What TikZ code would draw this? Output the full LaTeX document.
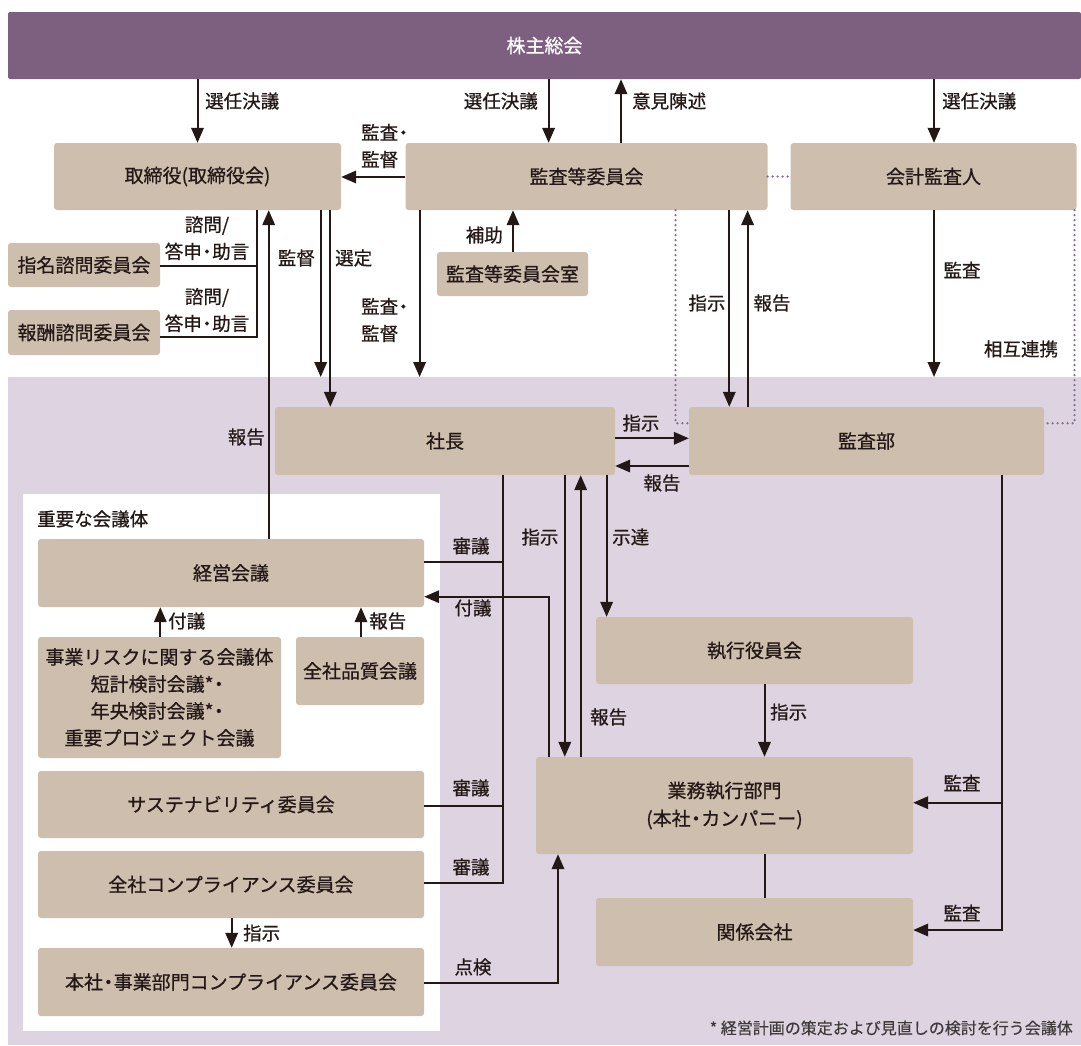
\documentclass[tikz,border=0pt]{standalone}
\usepackage{fontspec}
\setmainfont{Noto Sans CJK JP}[FakeBold=0.7]
\newfontfamily\fnfont{Noto Sans CJK JP}[FakeBold=0.3]
\usetikzlibrary{arrows.meta}
\newcommand{\tightdot}{\hspace{-0.22em}・\hspace{-0.22em}}
\definecolor{barpurple}{HTML}{7D6080}
\definecolor{boxtan}{HTML}{CEBEAE}
\definecolor{lav}{HTML}{DED4E1}
\definecolor{dotpurple}{HTML}{8A6A8C}
\definecolor{ink}{HTML}{231815}
\definecolor{fngray}{HTML}{3E393B}
\begin{document}
\begin{tikzpicture}[x=1pt,y=-1pt,
  every node/.style={font=\fontsize{19}{27}\selectfont, text=ink, inner sep=0pt},
  orgbox/.style={fill=boxtan, rounded corners=3pt, align=center},
  lbl/.style={font=\fontsize{18.5}{27}\selectfont},
  conn/.style={draw=ink, line width=2pt},
  arr/.style={conn, -{Triangle[length=15pt,width=12.5pt]}},
  dotline/.style={draw=dotpurple, line width=2.5pt, line cap=round, dash pattern=on 0pt off 5pt},
]
\useasboundingbox (0,0) rectangle (1081,1045);
% backgrounds
\fill[lav] (8,377) rectangle (1081,1045);
\fill[white] (23,494) rectangle (440,1031);
% columns and rows
\coordinate (X197) at (197.5,0);
\coordinate (X548) at (548.6,0);
\coordinate (X621) at (621,0);
\coordinate (X934) at (934,0);
\coordinate (X513) at (513,0);
\coordinate (X321) at (320.7,0);
\coordinate (X330) at (330.3,0);
\coordinate (X269) at (268.7,0);
\coordinate (X257) at (257,0);
\coordinate (X420) at (419.6,0);
\coordinate (X676) at (675.5,0);
\coordinate (X729) at (729.3,0);
\coordinate (X748) at (747.6,0);
\coordinate (X1074) at (1074.5,0);
\coordinate (X1002) at (1002,0);
\coordinate (X503) at (503,0);
\coordinate (XFG) at (548.6,0);
\coordinate (X558) at (558,0);
\coordinate (X565) at (564.8,0);
\coordinate (X581) at (580.7,0);
\coordinate (X606) at (606.6,0);
\coordinate (X764) at (764.5,0);
\coordinate (X160) at (160.3,0);
\coordinate (X361) at (361,0);
\coordinate (X232) at (231.7,0);
\coordinate (Y177) at (0,177);
\coordinate (Y266) at (0,265.7);
\coordinate (Y337) at (0,336.7);
\coordinate (Y377) at (0,377);
\coordinate (Y423) at (0,423.3);
\coordinate (Y438) at (0,438.3);
\coordinate (Y466) at (0,466);
\coordinate (Y562) at (0,561.7);
\coordinate (Y597) at (0,596.7);
\coordinate (Y803) at (0,802.7);
\coordinate (Y806) at (0,806);
\coordinate (Y883) at (0,883.3);
\coordinate (Y930) at (0,930);
\coordinate (Y983) at (0,983.3);
% boxes
\node[fill=barpurple, rounded corners=2pt, minimum width=1073pt, minimum height=67pt, text=white] (gm) at (544.5,45.5) {株主総会};
\node[orgbox, minimum width=287pt, minimum height=67pt] (tori) at (197.5,176.5) {取締役(取締役会)};
\node[orgbox, minimum width=362pt, minimum height=67pt] (kansa) at (586.5,176.5) {監査等委員会};
\node[orgbox, minimum width=286pt, minimum height=67pt] (kaikei) at (933.5,176.5) {会計監査人};
\node[orgbox, minimum width=152pt, minimum height=44pt] (shimei) at (84,265) {指名諮問委員会};
\node[orgbox, minimum width=152pt, minimum height=45pt] (hoshu) at (84,332.5) {報酬諮問委員会};
\node[orgbox, minimum width=151pt, minimum height=44pt] (shitsu) at (512.5,274) {監査等委員会室};
\node[orgbox, minimum width=340pt, minimum height=68pt] (shacho) at (445,441) {社長};
\node[orgbox, minimum width=355pt, minimum height=68pt] (kansabu) at (866.5,441) {監査部};
\node[orgbox, minimum width=386pt, minimum height=68pt] (keiei) at (231,573) {経営会議};
\node[orgbox, minimum width=243pt, minimum height=121pt] (risk) at (159.5,697.5) {事業リスクに関する会議体\\短計検討会議*\tightdot\\年央検討会議*\tightdot\\重要プロジェクト会議};
\node[orgbox, minimum width=128pt, minimum height=68pt] (hinshitsu) at (360,671) {全社品質会議};
\node[orgbox, minimum width=386pt, minimum height=67pt] (sustain) at (231,804.5) {サステナビリティ委員会};
\node[orgbox, minimum width=386pt, minimum height=67pt] (compl) at (231,884.5) {全社コンプライアンス委員会};
\node[orgbox, minimum width=386pt, minimum height=68pt] (honsha) at (231,982) {本社\tightdot 事業部門コンプライアンス委員会};
\node[orgbox, minimum width=317pt, minimum height=67pt] (shikko) at (754.5,650.5) {執行役員会};
\node[orgbox, minimum width=377pt, minimum height=97pt, font=\fontsize{19}{28}\selectfont] (gyomu) at (724.5,805.5) {業務執行部門\\(本社\tightdot カンパニー)};
\node[orgbox, minimum width=317pt, minimum height=68pt] (kankei) at (754.5,932) {関係会社};
% dotted links
\draw[dotline] (kansa.east) -- (kaikei.west);
\draw[dotline] (X676 |- kansa.south) |- (kansabu.west |- Y423);
\draw[dotline] (X1074 |- kaikei.south) |- (kansabu.east |- Y423);
% connectors top
\draw[arr] (X197 |- gm.south) -- (X197 |- tori.north);
\draw[arr] (X548 |- gm.south) -- (X548 |- kansa.north);
\draw[arr] (X621 |- kansa.north) -- (X621 |- gm.south);
\draw[arr] (X934 |- gm.south) -- (X934 |- kaikei.north);
\draw[arr] (kansa.west |- Y177) -- (tori.east |- Y177);
\draw[arr] (X513 |- shitsu.north) -- (X513 |- kansa.south);
\draw[conn] (X257 |- tori.south) |- (hoshu.east |- Y337);
\draw[conn] (shimei.east |- Y266) -- (X257 |- Y266);
\draw[arr] (X269 |- keiei.north) -- (X269 |- tori.south);
\draw[arr] (X321 |- tori.south) -- (X321 |- Y377);
\draw[arr] (X330 |- tori.south) -- (X330 |- shacho.north);
\draw[arr] (X420 |- kansa.south) -- (X420 |- Y377);
\draw[arr] (X729 |- kansa.south) -- (X729 |- kansabu.north);
\draw[arr] (X748 |- kansabu.north) -- (X748 |- kansa.south);
\draw[arr] (X934 |- kaikei.south) -- (X934 |- Y377);
% shacho / kansabu
\draw[arr] (shacho.east |- Y438) -- (kansabu.west |- Y438);
\draw[arr] (kansabu.west |- Y466) -- (shacho.east |- Y466);
\draw[conn] (X503 |- shacho.south) |- (compl.east |- Y883);
\draw[conn] (keiei.east |- Y562) -- (X503 |- Y562);
\draw[conn] (sustain.east |- Y806) -- (X503 |- Y806);
\draw[arr] (XFG |- gyomu.north) |- (keiei.east |- Y597);
\draw[arr] (X565 |- shacho.south) -- (X565 |- gyomu.north);
\draw[arr] (X581 |- gyomu.north) -- (X581 |- shacho.south);
\draw[arr] (X606 |- shacho.south) -- (X606 |- shikko.north);
\draw[arr] (X764 |- shikko.south) -- (X764 |- gyomu.north);
\draw[conn] (X764 |- gyomu.south) -- (X764 |- kankei.north);
\draw[arr] (honsha.east |- Y983) -| (X558 |- gyomu.south);
\draw[arr] (X1002 |- kansabu.south) |- (kankei.east |- Y930);
\draw[arr] (X1002 |- Y803) -- (gyomu.east |- Y803);
% inside white box
\draw[arr] (X160 |- risk.north) -- (X160 |- keiei.south);
\draw[arr] (X361 |- hinshitsu.north) -- (X361 |- keiei.south);
\draw[arr] (X232 |- compl.south) -- (X232 |- honsha.north);
% labels
\node[lbl, anchor=west] (lSen1) at (205,101) {選任決議};
\node[lbl, anchor=east] (lSen2) at (538,101) {選任決議};
\node[lbl, anchor=west] (lIken) at (632,101) {意見陳述};
\node[lbl, anchor=west] (lSen3) at (942,101) {選任決議};
\node[lbl, anchor=west, align=left] (lKK1) at (361,146) {監査\tightdot\\監督};
\node[lbl, anchor=east] (lHojo) at (503,235) {補助};
\node[lbl, align=center] (lShi1) at (207,238) {諮問/\\答申\tightdot 助言};
\node[lbl, align=center] (lShi2) at (207,310) {諮問/\\答申\tightdot 助言};
\node[lbl, anchor=east] (lKantoku) at (315,258) {監督};
\node[lbl, anchor=west] (lSentei) at (335,258) {選定};
\node[lbl, anchor=west, align=left] (lKK2) at (361,320) {監査\tightdot\\監督};
\node[lbl] (lShiji1) at (707,303) {指示};
\node[lbl] (lHoko1) at (772,303) {報告};
\node[lbl] (lKansa1) at (962,270) {監査};
\node[lbl] (lSogo) at (1021,349) {相互連携};
\node[lbl, anchor=east] (lHoko2) at (265,437) {報告};
\node[lbl] (lShiji2) at (641,423) {指示};
\node[lbl] (lHoko3) at (662,483) {報告};
\node[lbl, anchor=west] (lJuyo) at (37,519) {重要な会議体};
\node[lbl] (lShingi1) at (471,546) {審議};
\node[lbl] (lFugi1) at (473,608) {付議};
\node[lbl] (lShiji3) at (540,537) {指示};
\node[lbl, anchor=west] (lShitatsu) at (612,537) {示達};
\node[lbl, anchor=west] (lFugi2) at (168,621) {付議};
\node[lbl, anchor=west] (lHoko4) at (369,621) {報告};
\node[lbl, anchor=west] (lShiji4) at (770,712) {指示};
\node[lbl, anchor=west] (lHoko5) at (590,717) {報告};
\node[lbl] (lKansa2) at (962,783) {監査};
\node[lbl] (lShingi2) at (471,788) {審議};
\node[lbl] (lShingi3) at (471,867) {審議};
\node[lbl] (lKansa3) at (962,913) {監査};
\node[lbl, anchor=west] (lShiji5) at (243,933) {指示};
\node[lbl] (lTenken) at (473,967) {点検};
\node[font=\fnfont\fontsize{16}{18}\selectfont, text=fngray, anchor=east] (fn) at (1073,1028) {* 経営計画の策定および見直しの検討を行う会議体};
\end{tikzpicture}
\end{document}
